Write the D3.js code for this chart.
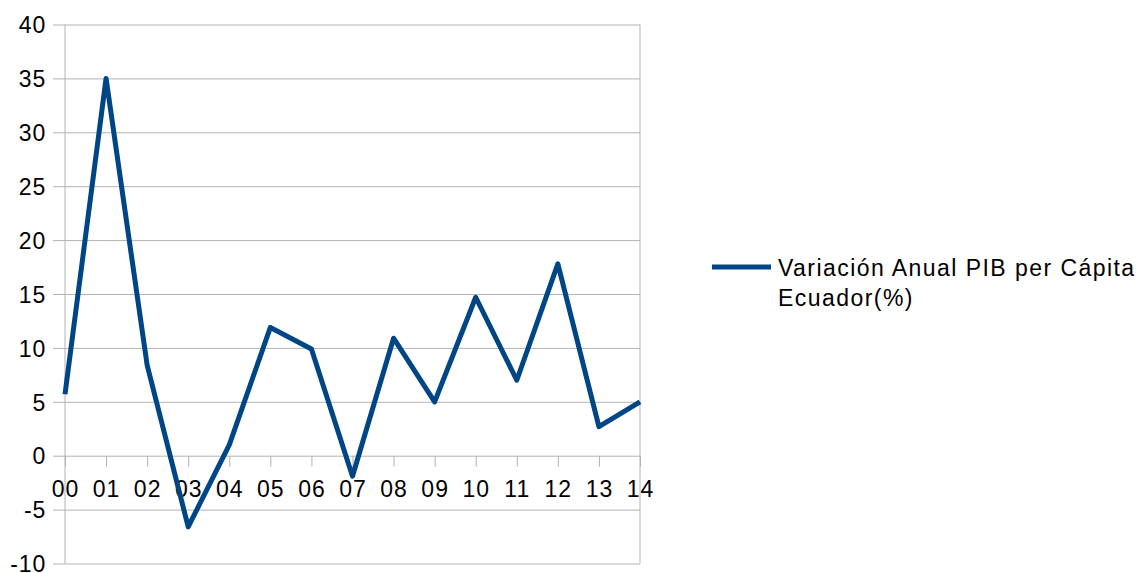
<!DOCTYPE html>
<html>
<head>
<meta charset="utf-8">
<script src="https://cdn.jsdelivr.net/npm/d3@7"></script>
<style>
  body { margin: 0; background: #fff; }
  text { font-family: "Liberation Sans", Arial, sans-serif; fill: #000; }
</style>
</head>
<body>
<div id="chart-area"></div>
<script>
// data
var years = ["00", "01", "02", "03", "04", "05", "06", "07", "08", "09", "10", "11", "12", "13", "14"];
var pibVariation = [5.7, 35.0, 8.4, -6.6, 1.0, 11.9, 9.9, -1.9, 10.9, 5.0, 14.7, 7.0, 17.8, 2.7, 5.0];
var yTicks = [-10, -5, 0, 5, 10, 15, 20, 25, 30, 35, 40];
var seriesName = ["Variación Anual PIB per Cápita", "Ecuador(%)"];

var W = 1140, H = 573;
var plotLeft = 65, plotRight = 640, plotTop = 24.5, plotBottom = 563.5;

var svg = d3.select("#chart-area").append("svg")
    .attr("width", W)
    .attr("height", H);

// scales
var x = d3.scalePoint().domain(years).range([plotLeft, plotRight]);
var y = d3.scaleLinear().domain([-10, 40]).range([plotBottom, plotTop]);

// horizontal grid + left ticks (plain hyphen for negatives, like the original)
var yAxis = svg.append("g")
    .attr("transform", "translate(" + plotLeft + ",0)")
    .call(d3.axisLeft(y).tickValues(yTicks).tickSize(12).tickFormat(d => String(d)));
yAxis.select(".domain").remove();
yAxis.selectAll(".tick line").attr("stroke", "#b3b3b3").attr("x1", -12).attr("x2", plotRight - plotLeft);
yAxis.selectAll("text")
    .style("font-size", "23px")
    .style("letter-spacing", "0.8px")
    .attr("x", -19)
    .attr("dy", "0.36em");

// frame verticals
svg.append("line").attr("x1", plotLeft).attr("x2", plotLeft).attr("y1", plotTop).attr("y2", plotBottom).attr("stroke", "#b3b3b3");
svg.append("line").attr("x1", plotRight).attr("x2", plotRight).attr("y1", plotTop).attr("y2", plotBottom).attr("stroke", "#b3b3b3");

// x axis crossing at zero
var xAxis = svg.append("g")
    .attr("transform", "translate(0," + y(0) + ")")
    .call(d3.axisBottom(x).tickSize(11).tickPadding(14));
xAxis.select(".domain").remove();
xAxis.selectAll(".tick line").attr("stroke", "#b3b3b3");
xAxis.selectAll("text")
    .style("font-size", "23px")
    .style("letter-spacing", "1px");

// line
var line = d3.line()
    .x(function(d, i) { return x(years[i]); })
    .y(function(d) { return y(d); });

svg.append("path")
    .datum(pibVariation)
    .attr("fill", "none")
    .attr("stroke", "#004586")
    .attr("stroke-width", 5)
    .attr("stroke-linejoin", "round")
    .attr("d", line);

// legend
var legend = svg.append("g").attr("transform", "translate(712,267)");
legend.append("line")
    .attr("x1", 0).attr("x2", 59)
    .attr("y1", 0).attr("y2", 0)
    .attr("stroke", "#004586")
    .attr("stroke-width", 5);
legend.selectAll("text.lbl")
    .data(seriesName)
    .enter().append("text")
    .attr("class", "lbl")
    .attr("x", 66)
    .attr("y", function(d, i) { return 9 + i * 30; })
    .style("font-size", "23px")
    .style("letter-spacing", "1.45px")
    .text(function(d) { return d; });
</script>
</body>
</html>
